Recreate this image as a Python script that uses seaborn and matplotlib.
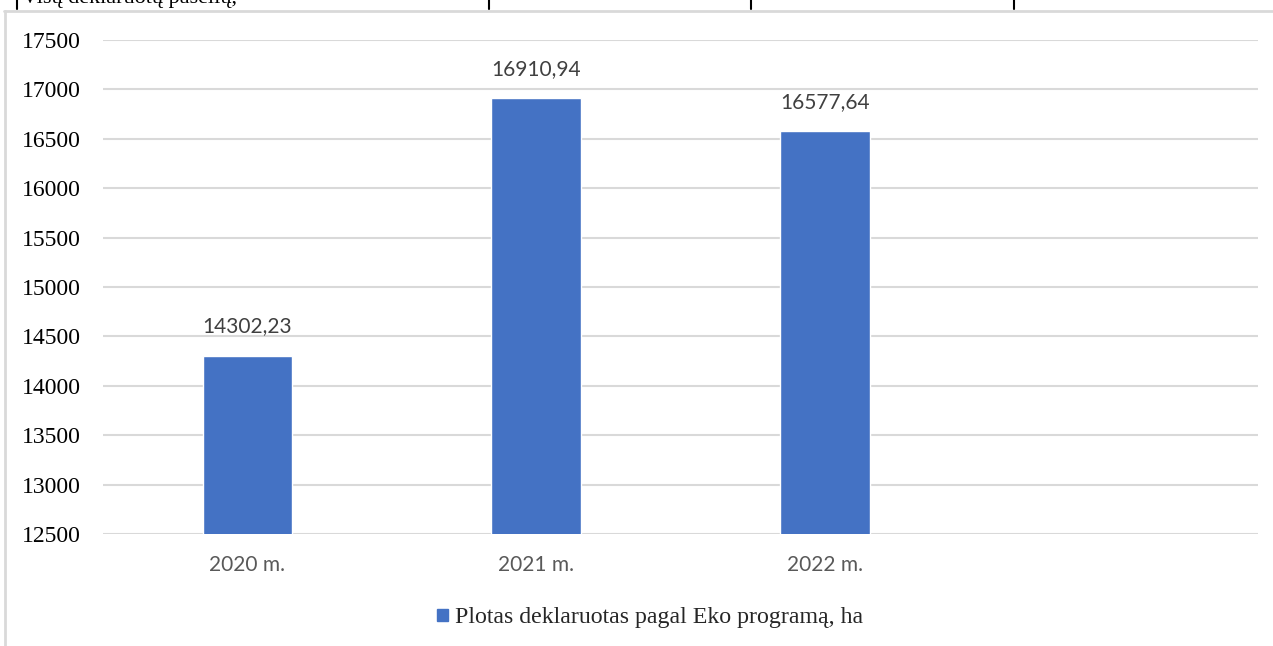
import seaborn as sns
import matplotlib.pyplot as plt
import pandas as pd
from matplotlib.patches import Patch
from matplotlib.lines import Line2D

years = ["2020 m.", "2021 m.", "2022 m."]
area = [14302.23, 16910.94, 16577.64]
legend_label = "Plotas deklaruotas pagal Eko programą, ha"
yticks = [12500, 13000, 13500, 14000, 14500, 15000, 15500, 16000, 16500, 17000, 17500]

df = pd.DataFrame({"year": years, "area": area})

sns.set_style("white")
blue = "#4472C4"

fig = plt.figure(figsize=(12.73, 6.46), dpi=100)
ax = fig.add_axes([103 / 1273, 1 - 534 / 646, (1258 - 103) / 1273, (534 - 40) / 646])

sns.barplot(data=df, x="year", y="area", color=blue, width=0.31, saturation=1, ax=ax)
ax.set_xlim(-0.5, 3.5)
ax.set_ylim(12500, 17500)
ax.set_yticks(yticks)
ax.set_xticks(range(len(years)))
ax.set_xticklabels(years)
ax.set_xlabel("")
ax.set_ylabel("")
ax.yaxis.grid(True, color="#d9d9d9", linewidth=1.5)
ax.set_axisbelow(True)
ax.tick_params(axis="y", length=0, pad=16, labelfontfamily="Liberation Serif", labelsize=17, labelcolor="black")
ax.tick_params(axis="x", length=0, pad=15, labelfontfamily="Lato", labelsize=15, labelcolor="#595959")
for s in ax.spines.values():
    s.set_visible(False)

labels = [f"{v:.2f}".replace(".", ",") for v in area]
ax.bar_label(ax.containers[0], labels=labels, padding=14, family="Lato", fontsize=15, color="#404040")

fig.legend(handles=[Patch(color=blue, label=legend_label)], loc="center", bbox_to_anchor=(650 / 1273, 1 - 618 / 646),
           frameon=False, handlelength=0.45, handleheight=0.45, handletextpad=0.3,
           prop={"family": "Liberation Serif", "size": 17.2})

# chart frame and the cut-off table row above it
W, H = 1273, 646
fig.add_artist(Line2D([4 / W, 1], [1 - 10.5 / H] * 2, color="#d9d9d9", linewidth=2, transform=fig.transFigure))
fig.add_artist(Line2D([4.5 / W] * 2, [0, 1 - 10.5 / H], color="#d9d9d9", linewidth=2, transform=fig.transFigure))
for x in [17, 489, 751, 1014]:
    fig.add_artist(Line2D([x / W] * 2, [1 - 8.5 / H, 1], color="black", linewidth=1.5, transform=fig.transFigure))
fig.text(22 / W, 1 - 2.5 / H, "Visų deklaruotų pasėlių,", family="Liberation Serif", fontsize=16,
         va="baseline", ha="left", color="black")

fig.savefig("out.png", dpi=100)
